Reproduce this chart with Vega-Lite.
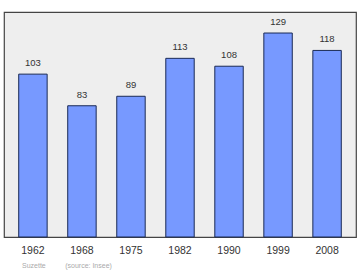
{
  "$schema": "https://vega.github.io/schema/vega-lite/v6.json",
  "width": 352,
  "height": 225,
  "autosize": "none",
  "padding": {"left": 4, "top": 12, "right": 4, "bottom": 33},
  "background": "white",
  "config": {
    "view": {"fill": "#eeeeee", "stroke": "#444444", "strokeWidth": 1.2},
    "font": "Liberation Sans"
  },
  "title": {
    "text": "Suzette\u00a0\u00a0\u00a0\u00a0\u00a0\u00a0\u00a0\u00a0\u00a0\u00a0(source: Insee)",
    "orient": "bottom",
    "anchor": "start",
    "fontSize": 7,
    "fontWeight": "normal",
    "color": "#aaaaaa",
    "dx": 18,
    "offset": 6
  },
  "data": {
    "values": [
      {"year": "1962", "pop": 103},
      {"year": "1968", "pop": 83},
      {"year": "1975", "pop": 89},
      {"year": "1982", "pop": 113},
      {"year": "1990", "pop": 108},
      {"year": "1999", "pop": 129},
      {"year": "2008", "pop": 118}
    ]
  },
  "encoding": {
    "x": {
      "field": "year",
      "type": "ordinal",
      "scale": {"paddingInner": 0.42, "paddingOuter": 0.3},
      "axis": {
        "title": null,
        "domain": false,
        "ticks": false,
        "labelAngle": 0,
        "labelFontSize": 10.5,
        "labelColor": "#333333",
        "labelPadding": 8
      }
    },
    "y": {
      "field": "pop",
      "type": "quantitative",
      "scale": {"domain": [0, 142.3], "nice": false},
      "axis": null
    }
  },
  "layer": [
    {
      "mark": {"type": "bar", "fill": "#7799ff", "stroke": "#1a2a55", "strokeWidth": 1}
    },
    {
      "mark": {"type": "text", "baseline": "bottom", "dy": -6, "fontSize": 9.5, "color": "#333333"},
      "encoding": {"text": {"field": "pop"}}
    }
  ]
}
